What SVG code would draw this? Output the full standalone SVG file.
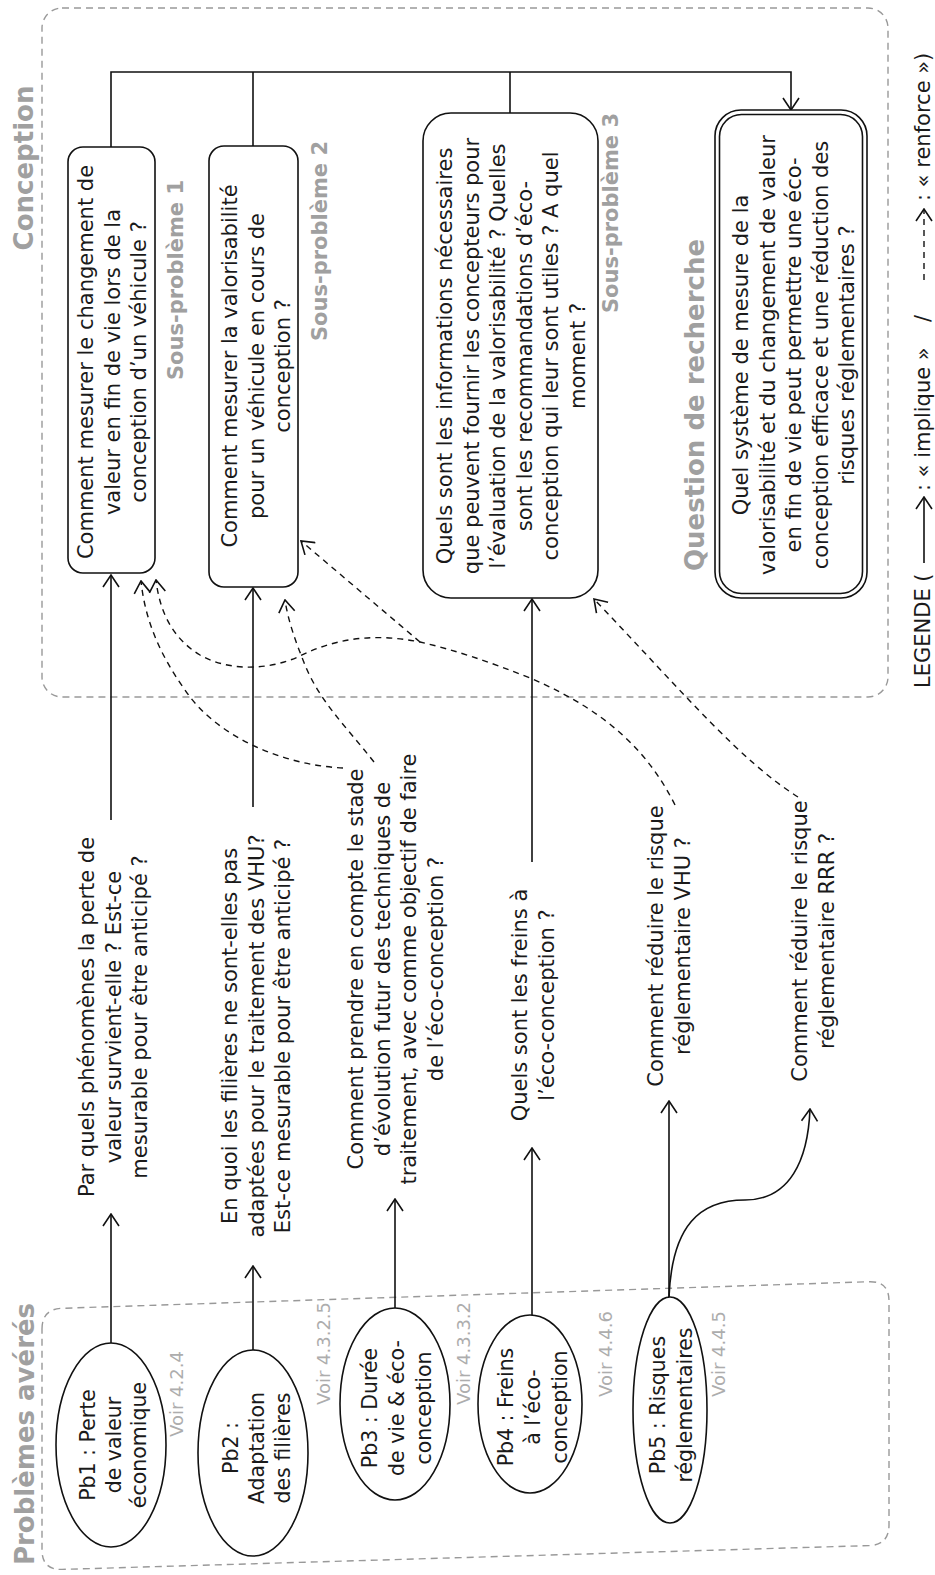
<svg xmlns="http://www.w3.org/2000/svg" width="935" height="1575" viewBox="0 0 935 1575">
<defs>
<style>
text{font-family:"DejaVu Sans","Liberation Sans",sans-serif;}
.t{font-size:21px;fill:#1a1a1a;text-anchor:middle;}
.e{font-size:20.5px;fill:#1a1a1a;text-anchor:middle;}
.ttl{font-weight:bold;fill:#a0a0a0;text-anchor:middle;}
.sp{font-size:21px;font-weight:bold;fill:#a0a0a0;text-anchor:middle;}
.voir{font-size:18px;fill:#adadad;}
.lg{font-size:21px;fill:#1a1a1a;}
.box{fill:#fff;stroke:#111;stroke-width:1.6;}
.grp{fill:none;stroke:#999;stroke-width:1.4;stroke-dasharray:7 5;}
.c{fill:none;stroke:#111;stroke-width:1.6;}
.d{fill:none;stroke:#111;stroke-width:1.4;stroke-dasharray:6 5;}
</style>
<marker id="ah" viewBox="0 0 14 18" refX="13" refY="9" markerWidth="14" markerHeight="18" markerUnits="userSpaceOnUse" orient="auto">
<path d="M1,1 L13,9 L1,17" fill="none" stroke="#111" stroke-width="1.6" stroke-dasharray="none"/>
</marker>
</defs>
<rect width="935" height="1575" fill="#fff"/>

<g id="groups">
<rect class="grp" x="42" y="8" width="846" height="689" rx="20"/>
<path class="grp" d="M42,1329 Q42,1309 62,1308.3 L869,1281.7 Q889,1281 889,1301 L889,1525 Q889,1545 869,1545.6 L62,1569.4 Q42,1570 42,1550 Z"/>
<text class="ttl" font-size="26" transform="translate(33,168) rotate(-90)">Conception</text>
<text class="ttl" font-size="26" transform="translate(34,1434) rotate(-90)">Problèmes avérés</text>
<text class="ttl" font-size="26" transform="translate(704,405) rotate(-90)">Question de recherche</text>
<text class="sp" transform="translate(183,280) rotate(-90)">Sous-problème 1</text>
<text class="sp" transform="translate(327,241) rotate(-90)">Sous-problème 2</text>
<text class="sp" transform="translate(618,213) rotate(-90)">Sous-problème 3</text>
</g>

<g id="connectors">
<path class="c" d="M111,147 V72 H791 V110" marker-end="url(#ah)"/>
<path class="c" d="M253,72 V146"/>
<path class="c" d="M510,72 V113"/>
<path class="c" d="M111,820 V575" marker-end="url(#ah)"/>
<path class="c" d="M253,807 V588" marker-end="url(#ah)"/>
<path class="c" d="M532,862 V599" marker-end="url(#ah)"/>
<path class="c" d="M111,1343 V1214" marker-end="url(#ah)"/>
<path class="c" d="M253,1350 V1266" marker-end="url(#ah)"/>
<path class="c" d="M395,1308 V1199" marker-end="url(#ah)"/>
<path class="c" d="M532,1315 V1148" marker-end="url(#ah)"/>
<path class="c" d="M669,1297 V1101" marker-end="url(#ah)"/>
<path class="c" d="M669,1297 C672,1225 700,1200 745,1200 C790,1200 808,1160 810,1109" marker-end="url(#ah)"/>
<path class="d" d="M343,768 C280,765 215,735 185,690 C160,655 145,620 141,581" marker-end="url(#ah)"/>
<path class="d" d="M675,805 C650,755 610,712 530,678 C490,662 455,650 420,642 C380,634 340,636 300,656 C270,670 230,672 200,655 C175,640 160,615 156,580" marker-end="url(#ah)"/>
<path class="d" d="M420,642 L301,541" marker-end="url(#ah)"/>
<path class="d" d="M374,762 C345,725 318,700 303,660 C295,640 288,620 285,600" marker-end="url(#ah)"/>
<path class="d" d="M798,797 C740,760 690,700 594,599" marker-end="url(#ah)"/>
</g>

<g id="sp1">
<rect class="box" x="68" y="147" width="87" height="426" rx="15"/>
<text class="t" transform="translate(93,362) rotate(-90)"><tspan x="0" y="0">Comment mesurer le changement de</tspan><tspan x="0" y="26.5">valeur en fin de vie lors de la</tspan><tspan x="0" y="53">conception d’un véhicule ?</tspan></text>
</g>
<g id="sp2">
<rect class="box" x="209" y="146" width="89" height="441" rx="15"/>
<text class="t" transform="translate(237,366) rotate(-90)"><tspan x="0" y="0">Comment mesurer la valorisabilité</tspan><tspan x="0" y="26.5">pour un véhicule en cours de</tspan><tspan x="0" y="53">conception ?</tspan></text>
</g>
<g id="sp3">
<rect class="box" x="423" y="113" width="175" height="485" rx="28"/>
<text class="t" transform="translate(452,356) rotate(-90)"><tspan x="0" y="0">Quels sont les informations nécessaires</tspan><tspan x="0" y="26.5">que peuvent fournir les concepteurs pour</tspan><tspan x="0" y="53">l’évaluation de la valorisabilité ? Quelles</tspan><tspan x="0" y="79.5">sont les recommandations d’éco-</tspan><tspan x="0" y="106">conception qui leur sont utiles ? A quel</tspan><tspan x="0" y="132.5">moment ?</tspan></text>
</g>
<g id="question">
<rect class="box" x="715" y="110" width="152" height="488" rx="26"/>
<rect class="box" x="719.5" y="114.5" width="143" height="479" rx="22"/>
<text class="t" transform="translate(748,355) rotate(-90)"><tspan x="0" y="0">Quel système de mesure de la</tspan><tspan x="0" y="26.5">valorisabilité et du changement de valeur</tspan><tspan x="0" y="53">en fin de vie peut permettre une éco-</tspan><tspan x="0" y="79.5">conception efficace et une réduction des</tspan><tspan x="0" y="106">risques réglementaires ?</tspan></text>
</g>

<g id="q1"><text class="t" transform="translate(94,1017) rotate(-90)"><tspan x="0" y="0">Par quels phénomènes la perte de</tspan><tspan x="0" y="26.5">valeur survient-elle ? Est-ce</tspan><tspan x="0" y="53">mesurable pour être anticipé ?</tspan></text></g>
<g id="q2"><text class="t" transform="translate(237,1036) rotate(-90)"><tspan x="0" y="0">En quoi les filières ne sont-elles pas</tspan><tspan x="0" y="26.5">adaptées pour le traitement des VHU?</tspan><tspan x="0" y="53">Est-ce mesurable pour être anticipé ?</tspan></text></g>
<g id="q3"><text class="t" transform="translate(363,969) rotate(-90)"><tspan x="0" y="0">Comment prendre en compte le stade</tspan><tspan x="0" y="26.5">d’évolution futur des techniques de</tspan><tspan x="0" y="53">traitement, avec comme objectif de faire</tspan><tspan x="0" y="79.5">de l’éco-conception ?</tspan></text></g>
<g id="q4"><text class="t" transform="translate(527,1005) rotate(-90)"><tspan x="0" y="0">Quels sont les freins à</tspan><tspan x="0" y="26.5">l’éco-conception ?</tspan></text></g>
<g id="q5"><text class="t" transform="translate(663,946) rotate(-90)"><tspan x="0" y="0">Comment réduire le risque</tspan><tspan x="0" y="26.5">réglementaire VHU ?</tspan></text></g>
<g id="q6"><text class="t" transform="translate(807,941) rotate(-90)"><tspan x="0" y="0">Comment réduire le risque</tspan><tspan x="0" y="26.5">réglementaire RRR ?</tspan></text></g>

<g id="pb1">
<ellipse class="box" cx="111" cy="1445" rx="55" ry="102"/>
<text class="e" transform="translate(95,1445) rotate(-90)"><tspan x="0" y="0">Pb1 : Perte</tspan><tspan x="0" y="25.5">de valeur</tspan><tspan x="0" y="51">économique</tspan></text>
<text class="voir" transform="translate(183,1437) rotate(-90)">Voir 4.2.4</text>
</g>
<g id="pb2">
<ellipse class="box" cx="253" cy="1453" rx="55" ry="103"/>
<text class="e" transform="translate(238,1448) rotate(-90)"><tspan x="0" y="0">Pb2 :</tspan><tspan x="0" y="26">Adaptation</tspan><tspan x="0" y="52">des filières</tspan></text>
<text class="voir" transform="translate(330,1405) rotate(-90)">Voir 4.3.2.5</text>
</g>
<g id="pb3">
<ellipse class="box" cx="395" cy="1404" rx="55" ry="96"/>
<text class="e" transform="translate(377,1408) rotate(-90)"><tspan x="0" y="0">Pb3 : Durée</tspan><tspan x="0" y="27">de vie &amp; éco-</tspan><tspan x="0" y="54">conception</tspan></text>
<text class="voir" transform="translate(470,1405) rotate(-90)">Voir 4.3.3.2</text>
</g>
<g id="pb4">
<ellipse class="box" cx="530" cy="1404" rx="52" ry="89"/>
<text class="e" transform="translate(513,1407) rotate(-90)"><tspan x="0" y="0">Pb4 : Freins</tspan><tspan x="0" y="27">à l’éco-</tspan><tspan x="0" y="54">conception</tspan></text>
<text class="voir" transform="translate(612,1397) rotate(-90)">Voir 4.4.6</text>
</g>
<g id="pb5">
<ellipse class="box" cx="670" cy="1410" rx="37" ry="113"/>
<text class="e" font-size="18.5" transform="translate(665,1405) rotate(-90)"><tspan x="0" y="0">Pb5 : Risques</tspan><tspan x="0" y="27">réglementaires</tspan></text>
<text class="voir" transform="translate(725,1397) rotate(-90)">Voir 4.4.5</text>
</g>

<g id="legend">
<text class="lg" transform="translate(930,688) rotate(-90)">LEGENDE (</text>
<path class="c" d="M924,563 V497" marker-end="url(#ah)"/>
<text class="lg" transform="translate(930,491) rotate(-90)">: « implique »</text>
<text class="lg" transform="translate(930,322) rotate(-90)">/</text>
<path class="d" d="M924,280 V209" marker-end="url(#ah)"/>
<text class="lg" transform="translate(930,201) rotate(-90)">: « renforce »)</text>
</g>
</svg>
